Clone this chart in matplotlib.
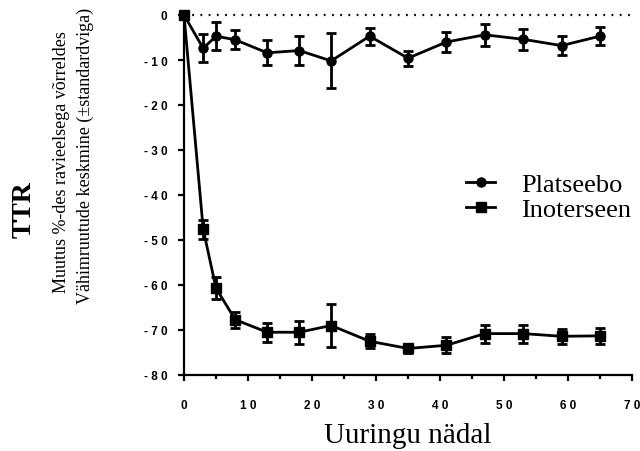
import matplotlib
matplotlib.use("Agg")
import matplotlib.pyplot as plt
from matplotlib.ticker import MultipleLocator, FuncFormatter

# --- data ---
weeks = [0, 3, 5, 8, 13, 18, 23, 29, 35, 41, 47, 53, 59, 65]
placebo_mean = [0, -7.4, -4.7, -5.5, -8.4, -7.9, -10.2, -4.7, -9.6, -6.0, -4.4, -5.4, -6.8, -4.7]
placebo_se = [0, 3.1, 3.1, 2.1, 2.8, 3.3, 6.1, 1.9, 1.7, 2.3, 2.4, 2.4, 2.1, 2.0]
inot_mean = [0, -47.6, -60.7, -67.7, -70.5, -70.5, -69.0, -72.5, -74.1, -73.4, -70.8, -70.8, -71.4, -71.3]
inot_se = [0, 2.1, 2.4, 1.8, 2.1, 2.6, 4.7, 1.6, 1.0, 1.8, 2.0, 2.0, 1.7, 1.7]

series_names = ["Platseebo", "Inoterseen"]
title_text = "TTR"
ylabel_lines = ["Muutus %-des ravieelsega võrreldes",
                "Vähimruutude keskmine (±standardviga)"]
xlabel_text = "Uuringu nädal"

SERIF = ["Liberation Serif", "DejaVu Serif"]
SANS = ["Liberation Sans", "DejaVu Sans"]

W, H = 640, 452
fig = plt.figure(figsize=(W / 100, H / 100), dpi=100)
ax = fig.add_axes([184 / W, 1 - 376 / H, (632 - 184) / W, (376 - 16) / H])

# reference line at zero
ax.plot([0, 70], [0, 0], color="black", lw=1.6, linestyle=(0, (0.8, 2.9)),
        clip_on=False, zorder=1)

lw = 2.0
handles = []
for mean, se, mk, ms in [(placebo_mean, placebo_se, "o", 6.5),
                         (inot_mean, inot_se, "s", 6.5)]:
    ax.errorbar(weeks, mean, yerr=se, fmt="none", ecolor="black",
                elinewidth=lw, capsize=3.6, capthick=lw, clip_on=False, zorder=2)
    ln, = ax.plot(weeks, mean, color="black", lw=lw, marker=mk, markersize=ms,
                  clip_on=False, zorder=3)
    handles.append(ln)

ax.set_xlim(0, 70)
ax.set_ylim(-80, 0)
for side in ["top", "right"]:
    ax.spines[side].set_visible(False)
for side in ["left", "bottom"]:
    ax.spines[side].set_linewidth(1.6)

ax.xaxis.set_major_locator(MultipleLocator(10))
ax.xaxis.set_minor_locator(MultipleLocator(5))
ax.yaxis.set_major_locator(MultipleLocator(10))

# spaced-out digits, as in the original export
spaced = FuncFormatter(lambda v, p: " ".join(f"{int(round(v))}"))
ax.xaxis.set_major_formatter(spaced)
ax.yaxis.set_major_formatter(spaced)

ax.tick_params(axis="both", which="major", length=4, width=1.6, direction="out")
ax.tick_params(axis="x", which="minor", length=3, width=1.6, direction="out")
ax.tick_params(axis="x", which="major", pad=13)
ax.tick_params(axis="y", which="major", pad=8)
for lab in ax.get_xticklabels() + ax.get_yticklabels():
    lab.set_family(SANS)
    lab.set_fontweight("bold")
    lab.set_fontsize(8.5)

ax.set_xlabel(xlabel_text, family=SERIF, fontsize=21, labelpad=8)

# y-axis title block
fig.text(24 / W, 1 - 210 / H, title_text, family=SERIF, fontsize=20,
         fontweight="bold", rotation=90, ha="center", va="center")
fig.text(62 / W, 1 - 162 / H, ylabel_lines[0], family=SERIF, fontsize=13,
         rotation=90, ha="center", va="center")
fig.text(85 / W, 1 - 156 / H, ylabel_lines[1], family=SERIF, fontsize=13,
         rotation=90, ha="center", va="center")

leg = ax.legend(handles, series_names, loc="center left",
                bbox_to_anchor=(466 / W, 1 - 198 / H),
                bbox_transform=fig.transFigure, frameon=False,
                prop={"family": SERIF, "size": 19}, handlelength=1.1,
                handletextpad=1.0, labelspacing=0.05, borderpad=0,
                borderaxespad=0)

fig.savefig("out.png", dpi=100)
